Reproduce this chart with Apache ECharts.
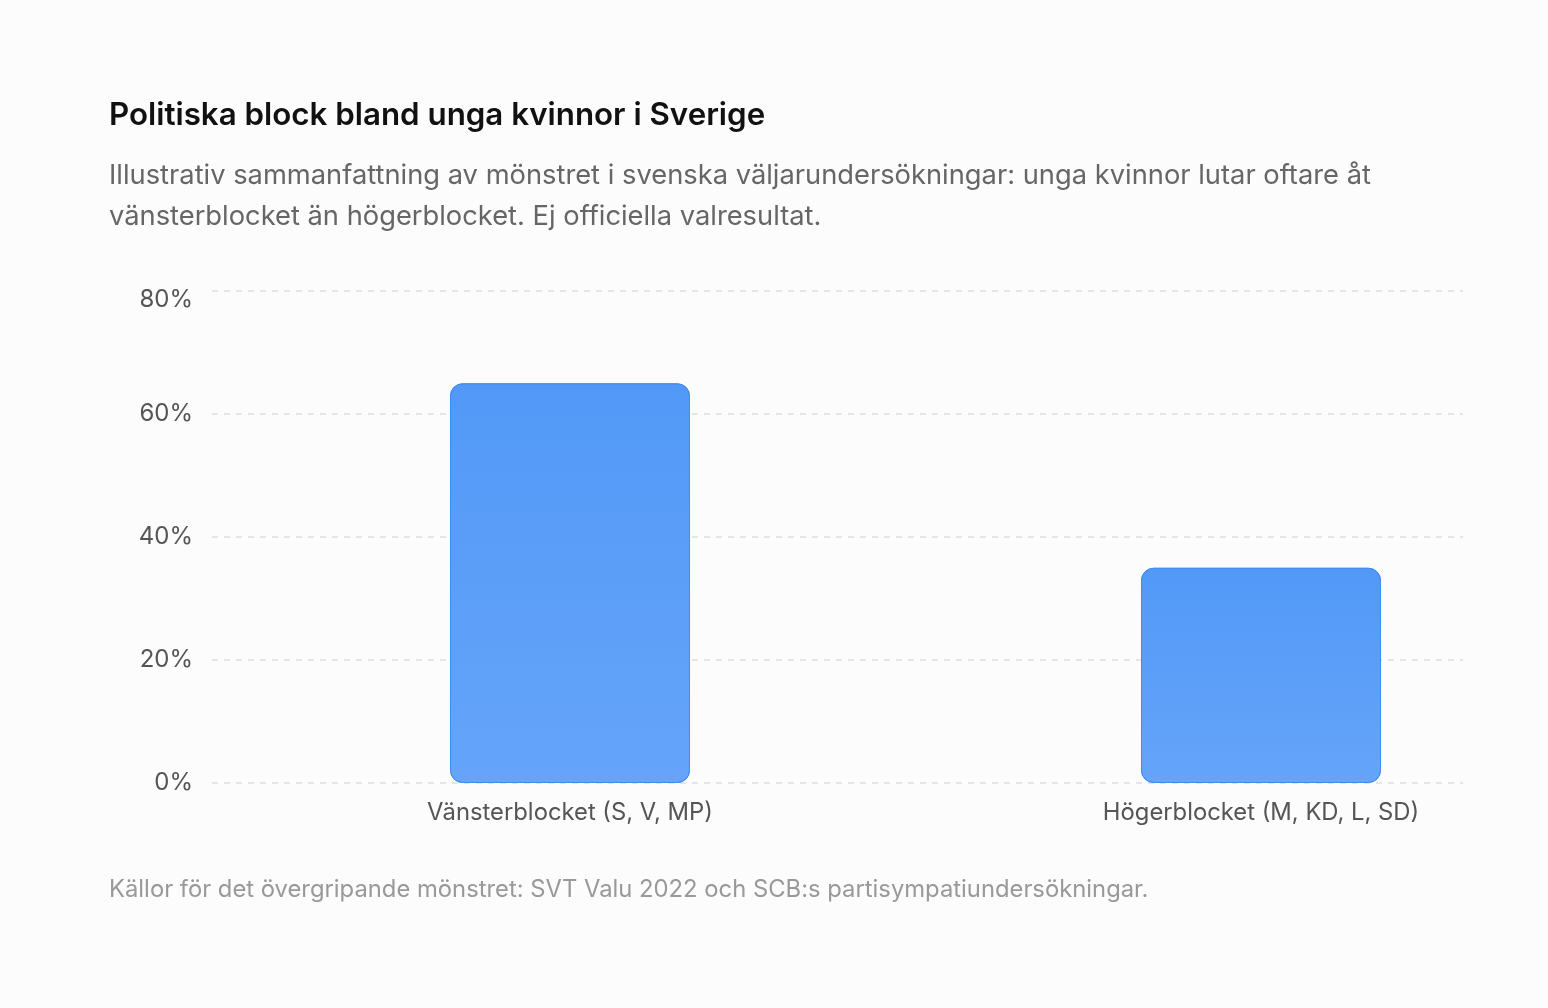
<!DOCTYPE html>
<html>
<head>
<meta charset="utf-8">
<script src="https://cdn.jsdelivr.net/npm/echarts@6/dist/echarts.min.js"></script>
<style>
  html, body { margin: 0; padding: 0; background: #fcfcfc; }
  #chart { width: 1548px; height: 1008px; }
</style>
</head>
<body>
<div id="chart"></div>
<script>
// data
var categories = ['Vänsterblocket (S, V, MP)', 'Högerblocket (M, KD, L, SD)']
var shares = [65, 35]
var yTicks = { min: 0, max: 80, step: 20 }

var titleText = 'Politiska block bland unga kvinnor i Sverige'
var subText = 'Illustrativ sammanfattning av mönstret i svenska väljarundersökningar: unga kvinnor lutar oftare åt\nvänsterblocket än högerblocket. Ej officiella valresultat.'
var sourceText = 'Källor för det övergripande mönstret: SVT Valu 2022 och SCB:s partisympatiundersökningar.'

var font = 'Inter, "Noto Sans", sans-serif'

var myChart = echarts.init(document.getElementById('chart'))

myChart.setOption({
  backgroundColor: '#fcfcfc',
  textStyle: { fontFamily: font },
  title: [{
    text: titleText,
    left: 109,
    top: 100,
    padding: 0,
    textStyle: { fontSize: 31.3, fontWeight: 600, color: '#111', fontFamily: font }
  }, {
    text: subText,
    left: 109,
    top: 155,
    padding: 0,
    textStyle: { fontSize: 27.3, fontWeight: 400, color: '#666', lineHeight: 41, fontFamily: font }
  }, {
    text: sourceText,
    left: 109,
    top: 878,
    padding: 0,
    textStyle: { fontSize: 23.8, fontWeight: 400, color: '#999', fontFamily: font }
  }],
  grid: [
    // y labels + dashed split lines
    { left: 212, right: 85, top: 291, bottom: 225 },
    // bar centres sit on the edges of this one (boundaryGap false)
    { left: 570, right: 287, top: 291, bottom: 225 }
  ],
  xAxis: [{
    gridIndex: 0,
    type: 'category',
    data: categories,
    show: false
  }, {
    gridIndex: 1,
    type: 'category',
    data: categories,
    boundaryGap: false,
    axisLine: { show: false },
    axisTick: { show: false },
    splitLine: { show: false },
    axisLabel: { color: '#555', fontSize: 23.8, margin: 18, fontFamily: font, interval: 0 }
  }],
  yAxis: [{
    gridIndex: 0,
    type: 'value',
    min: yTicks.min,
    max: yTicks.max,
    interval: yTicks.step,
    axisLine: { show: false },
    axisTick: { show: false },
    axisLabel: {
      color: '#555', fontSize: 24, margin: 19, fontFamily: font,
      formatter: function (value) {
        // top label sits a bit lower in the reference
        if (value == yTicks.max) return '{top|' + value + '%}'
        return value + '%'
      },
      rich: {
        top: { color: '#555', fontSize: 24, fontFamily: font, padding: [18, 0, 0, 0] }
      }
    },
    splitLine: { lineStyle: { color: '#dddddd', type: [6, 6], width: 1.5 } }
  }, {
    gridIndex: 1,
    type: 'value',
    min: yTicks.min,
    max: yTicks.max,
    interval: yTicks.step,
    show: false,
    splitLine: { show: false }
  }],
  series: [{
    type: 'bar',
    xAxisIndex: 1,
    yAxisIndex: 1,
    data: shares,
    barWidth: 240,
    clip: false,
    itemStyle: {
      borderRadius: 12,
      borderColor: 'rgba(60,135,240,0.8)',
      borderWidth: 1,
      color: new echarts.graphic.LinearGradient(0, 0, 0, 1, [
        { offset: 0, color: '#5299f7' },
        { offset: 1, color: '#65a4fa' }
      ])
    }
  }]
})
</script>
</body>
</html>
